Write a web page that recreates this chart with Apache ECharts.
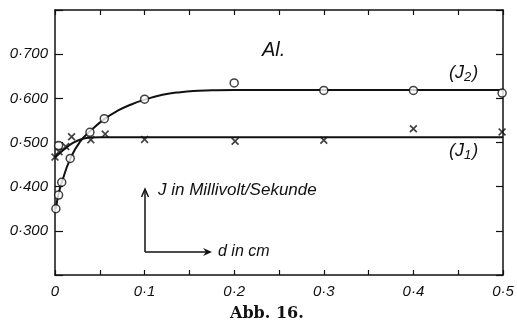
<!DOCTYPE html>
<html>
<head>
<meta charset="utf-8">
<script src="https://cdn.jsdelivr.net/npm/echarts@6/dist/echarts.min.js"></script>
<style>
  html, body { margin: 0; padding: 0; background: #fff; }
  #chart { width: 517px; height: 322px; }
</style>
</head>
<body>
<div id="chart"></div>
<script>
// Measured points: d in cm, J in millivolt per second
const j2Points = [
  [0.001, 0.350], [0.004, 0.381], [0.004, 0.493], [0.0075, 0.410], [0.017, 0.464],
  [0.039, 0.523], [0.055, 0.554], [0.100, 0.598], [0.200, 0.635],
  [0.300, 0.618], [0.400, 0.618], [0.499, 0.612]
];
const j1Points = [
  [0.000, 0.467], [0.0045, 0.479], [0.012, 0.491], [0.0185, 0.513],
  [0.040, 0.506], [0.056, 0.519], [0.100, 0.507], [0.201, 0.503],
  [0.300, 0.505], [0.400, 0.531], [0.499, 0.524]
];
// Hand-drawn fit curves through the measurements
const j2Curve = [
  [0.001, 0.350], [0.004, 0.384], [0.008, 0.412], [0.017, 0.463], [0.028, 0.502],
  [0.040, 0.527], [0.055, 0.553], [0.070, 0.572], [0.085, 0.586], [0.100, 0.597],
  [0.120, 0.608], [0.140, 0.614], [0.160, 0.617], [0.180, 0.6185], [0.200, 0.619],
  [0.250, 0.619], [0.300, 0.619], [0.400, 0.619], [0.500, 0.619]
];
const j1Curve = [
  [0.000, 0.466], [0.010, 0.484], [0.020, 0.499], [0.030, 0.508], [0.040, 0.5115],
  [0.050, 0.512], [0.070, 0.512], [0.100, 0.512], [0.300, 0.512], [0.500, 0.512]
];
const xTickLabels = ['0', '0·1', '0·2', '0·3', '0·4', '0·5'];
const yTickLabels = ['0·300', '0·400', '0·500', '0·600', '0·700'];

const chart = echarts.init(document.getElementById('chart'));
const ink = '#111';
const labelFont = { color: ink, fontFamily: 'Liberation Sans', fontStyle: 'italic', fontSize: 15 };
const crossPath = 'path://M0,1.5L1.5,0L5,3.5L8.5,0L10,1.5L6.5,5L10,8.5L8.5,10L5,6.5L1.5,10L0,8.5L3.5,5Z';

function xLabel(v) {
  const k = Math.round(v * 100);
  if (k % 10 !== 0) return '';
  return xTickLabels[k / 10] || '';
}
function yLabel(v) {
  const k = Math.round(v * 10);
  return yTickLabels[k - 3] || '';
}

chart.setOption({
  animation: false,
  backgroundColor: '#fff',
  grid: { left: 55, top: 10, right: 14, bottom: 47 },
  xAxis: [
    {
      type: 'value', position: 'bottom', min: 0, max: 0.5, interval: 0.05,
      axisLine: { onZero: false, lineStyle: { color: ink, width: 1.5 } },
      axisTick: { inside: true, length: 5, lineStyle: { color: ink, width: 1.2 } },
      axisLabel: Object.assign({ formatter: xLabel, margin: 9 }, labelFont),
      splitLine: { show: false }
    },
    {
      type: 'value', position: 'top', min: 0, max: 0.5, interval: 0.05,
      axisLine: { onZero: false, lineStyle: { color: ink, width: 1.5 } },
      axisTick: { inside: true, length: 5, lineStyle: { color: ink, width: 1.2 } },
      axisLabel: { show: false },
      splitLine: { show: false }
    }
  ],
  yAxis: [
    {
      type: 'value', position: 'left', min: 0.2, max: 0.8, interval: 0.1,
      axisLine: { onZero: false, lineStyle: { color: ink, width: 1.5 } },
      axisTick: { inside: true, length: 8, lineStyle: { color: ink, width: 1.2 } },
      axisLabel: Object.assign({ formatter: yLabel, margin: 7 }, labelFont),
      splitLine: { show: false }
    },
    {
      type: 'value', position: 'right', min: 0.2, max: 0.8, interval: 0.1,
      axisLine: { onZero: false, lineStyle: { color: ink, width: 1.5 } },
      axisTick: { inside: true, length: 7, lineStyle: { color: ink, width: 1.2 } },
      axisLabel: { show: false },
      splitLine: { show: false }
    }
  ],
  series: [
    {
      name: 'J2 fit', type: 'line', data: j2Curve, smooth: 0.5,
      showSymbol: false, lineStyle: { color: ink, width: 2 }, z: 2
    },
    {
      name: 'J1 fit', type: 'line', data: j1Curve, smooth: 0.5,
      showSymbol: false, lineStyle: { color: ink, width: 2 }, z: 2
    },
    {
      name: 'J2', type: 'scatter', data: j2Points, symbol: 'circle', symbolSize: 8,
      itemStyle: { color: '#fff', borderColor: ink, borderWidth: 1.5 }, z: 4
    },
    {
      name: 'J1', type: 'scatter', data: j1Points, symbol: crossPath, symbolSize: 8,
      itemStyle: { color: ink }, z: 3
    }
  ],
  graphic: [
    { type: 'text', left: 262, top: 40, style: { text: 'Al.', fill: ink, font: 'italic 20px "Liberation Sans"' } },
    { type: 'text', left: 449, top: 64, style: {
        text: '(J{s|2})', fill: ink, font: 'italic 18px "Liberation Sans"',
        rich: { s: { fontSize: 13, fontStyle: 'italic', fontFamily: 'Liberation Sans', padding: [8, 1, 0, 0] } } } },
    { type: 'text', left: 449, top: 142, style: {
        text: '(J{s|1})', fill: ink, font: 'italic 18px "Liberation Sans"',
        rich: { s: { fontSize: 13, fontStyle: 'italic', fontFamily: 'Liberation Sans', padding: [8, 1, 0, 0] } } } },
    { type: 'polyline', shape: { points: [[145, 252], [145, 190]] }, style: { stroke: ink, lineWidth: 1.5, fill: null } },
    { type: 'polyline', shape: { points: [[141.5, 197], [145, 189], [148.5, 197]] }, style: { stroke: ink, lineWidth: 1.5, fill: null } },
    { type: 'polyline', shape: { points: [[145, 252], [210, 252]] }, style: { stroke: ink, lineWidth: 1.5, fill: null } },
    { type: 'polygon', shape: { points: [[203, 248], [212, 252], [203, 256], [206, 252]] }, style: { fill: ink } },
    { type: 'text', left: 158, top: 182, style: { text: 'J in Millivolt/Sekunde', fill: ink, font: 'italic 17px "Liberation Sans"' } },
    { type: 'text', left: 218, top: 244, style: { text: 'd in cm', fill: ink, font: 'italic 16px "Liberation Sans"' } },
    { type: 'text', left: 230, top: 306, style: { text: 'Abb. 16.', fill: ink, font: 'bold 16px "DejaVu Serif"' } }
  ]
});
</script>
</body>
</html>
